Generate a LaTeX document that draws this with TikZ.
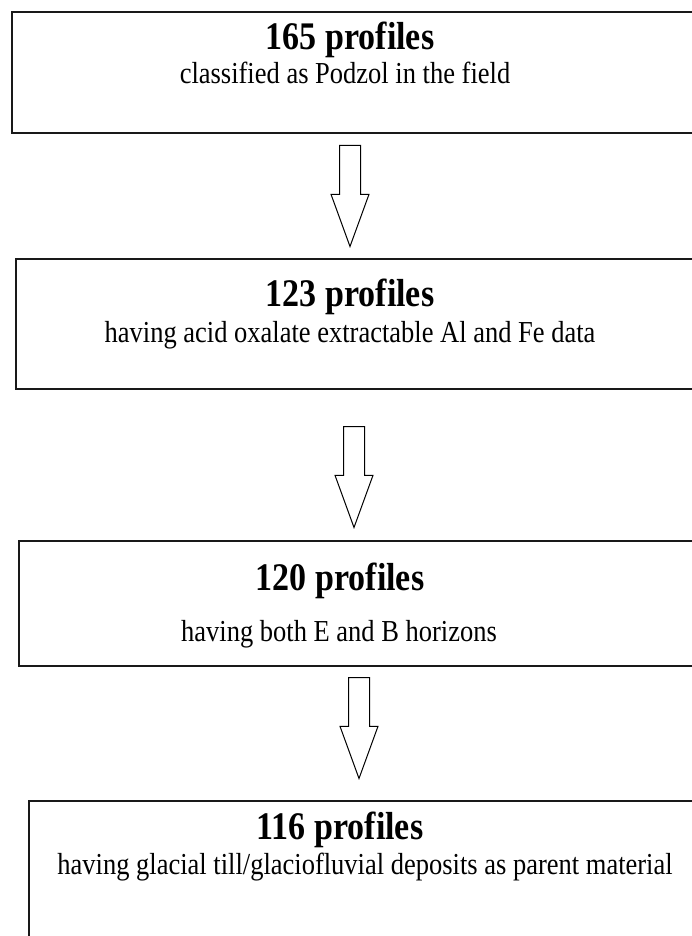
\documentclass[tikz,border=0pt]{standalone}
\usepackage{graphicx}
\usepackage{fontspec}
\setmainfont{Liberation Serif}
\usetikzlibrary{shapes.arrows, positioning}

\newcommand{\tall}[1]{\scalebox{1}[1.15]{#1}}

\begin{document}
\begin{tikzpicture}[x=1pt, y=-1pt,
    stage/.style={draw=black!90, line width=1.8pt, anchor=north west,
                  minimum width=700pt, inner sep=0pt},
    count/.style={font=\fontsize{34}{34}\selectfont\bfseries, inner sep=0pt},
    crit/.style={font=\fontsize{26.5}{26.5}\selectfont, inner sep=0pt},
    down/.style={single arrow, draw, line width=1pt, rotate=-90, anchor=tail,
                 minimum height=101pt, minimum width=37pt, inner sep=10pt,
                 single arrow tip angle=40, single arrow head extend=8.5pt},
]
\useasboundingbox (0,0) rectangle (692,936);
\clip (0,0) rectangle (692,936);

% stages of the selection
\node[stage, minimum height=121pt] (s1) at (11,11)  {};
\node[stage, minimum height=130pt] (s2) at (15,258) {};
\node[stage, minimum height=125pt] (s3) at (18,540) {};
\node[stage, minimum height=160pt] (s4) at (28,800) {};

\node[count] (n1) at (350,40)  {\tall{165 profiles}};
\node[crit]  (c1) at (345,73)  {\tall{classified as Podzol in the field}};
\node[count] (n2) at (350,297) {\tall{123 profiles}};
\node[crit]  (c2) at (350,335) {\tall{having acid oxalate extractable Al and Fe data}};
\node[count] (n3) at (340,581) {\tall{120 profiles}};
\node[crit]  (c3) at (339,634) {\tall{having both E and B horizons}};
\node[count] (n4) at (340,830) {\tall{116 profiles}};
\node[crit]  (c4) at (365,867) {\tall{having glacial till/glaciofluvial deposits as parent material}};

% block arrows between the stages
\node[down] (a1) at (350,145) {};
\node[down] (a2) at (354,426) {};
\node[down] (a3) at (359,677) {};

\end{tikzpicture}
\end{document}
